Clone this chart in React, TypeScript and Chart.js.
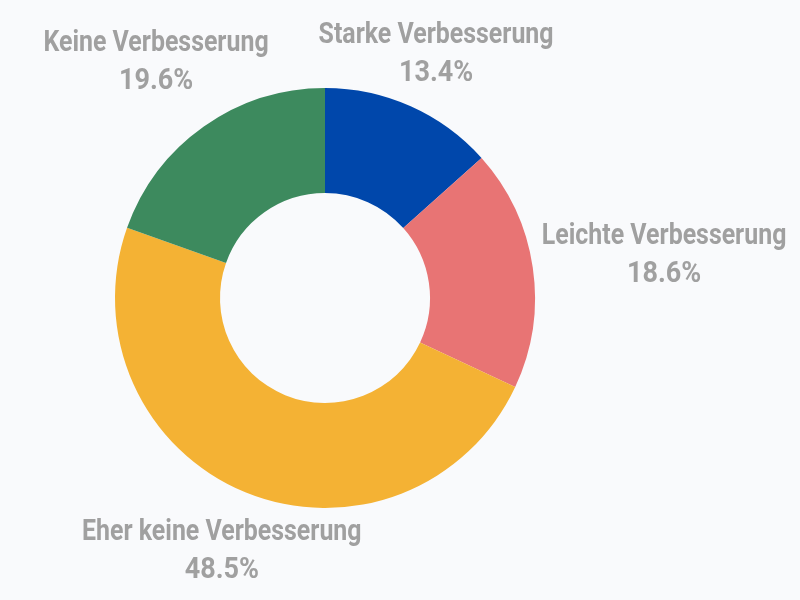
import React, { useEffect, useRef } from "react";
import { Chart, registerables } from "chart.js";

Chart.register(...registerables);

const categories = [
  "Starke Verbesserung",
  "Leichte Verbesserung",
  "Eher keine Verbesserung",
  "Keine Verbesserung",
];
const shares = [13.4, 18.6, 48.5, 19.6];
const colors = ["#0047ab", "#e87474", "#f4b234", "#3d8a5e"];
// small manual nudges of label blocks (px) relative to radial placement
const labelNudgeX = [0, 70, 0, -12];
const labelNudgeY = [5, -3, 2, -13];

const labelPlugin = {
  id: "outerLabels",
  afterDraw(chart: any) {
    const ctx = chart.ctx;
    const meta = chart.getDatasetMeta(0);
    ctx.save();
    ctx.fillStyle = "#a0a0a0";
    ctx.textAlign = "center";
    ctx.textBaseline = "middle";
    ctx.font = "bold 30px Roboto";
    meta.data.forEach((arc: any, i: number) => {
      const mid = (arc.startAngle + arc.endAngle) / 2;
      const r = arc.outerRadius + 62;
      const cx = arc.x + Math.cos(mid) * r + labelNudgeX[i];
      const cy = arc.y + Math.sin(mid) * r + labelNudgeY[i];
      const name = categories[i];
      const pct = shares[i].toFixed(1) + "%";
      const w1 = ctx.measureText(name).width * 0.83;
      const w2 = ctx.measureText(pct).width * 0.9;
      ctx.fillText(name, cx, cy - 19, w1);
      ctx.fillText(pct, cx, cy + 19, w2);
    });
    ctx.restore();
  },
};

const bgPlugin = {
  id: "bg",
  beforeDraw(chart: any) {
    const ctx = chart.ctx;
    ctx.save();
    ctx.fillStyle = "#f9fafc";
    ctx.fillRect(0, 0, chart.width, chart.height);
    ctx.restore();
  },
};

export default function App() {
  const ref = useRef<HTMLCanvasElement>(null);
  useEffect(() => {
    document.body.style.margin = "0";
    const chart = new Chart(ref.current!, {
      type: "doughnut",
      data: {
        labels: categories,
        datasets: [
          {
            data: shares,
            backgroundColor: colors,
            borderWidth: 0,
          },
        ],
      },
      options: {
        animation: false,
        responsive: false,
        cutout: "50%",
        layout: { padding: { left: 115, right: 265, top: 88, bottom: 92 } },
        plugins: { legend: { display: false }, tooltip: { enabled: false } },
      },
      plugins: [bgPlugin, labelPlugin],
    });
    return () => chart.destroy();
  }, []);
  return (
    <div style={{ width: 800, height: 600 }}>
      <canvas ref={ref} width={800} height={600} />
    </div>
  );
}
